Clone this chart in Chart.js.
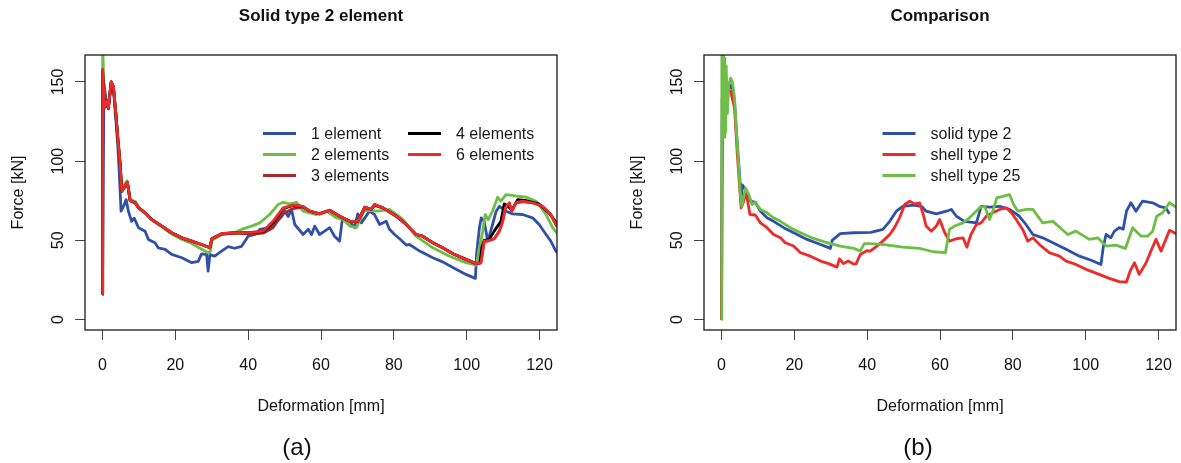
<!DOCTYPE html>
<html>
<head>
<meta charset="utf-8">
<script src="https://cdn.jsdelivr.net/npm/chart.js@4.4.1/dist/chart.umd.min.js"></script>
<style>
  html, body { margin: 0; padding: 0; background: #fff; }
  #wrap { position: relative; width: 1181px; height: 463px; overflow: hidden; }
  canvas { position: absolute; top: 0; }
  .tag { position: absolute; top: 432px; width: 60px; margin-left: -30px; text-align: center;
         font: 24px "Liberation Sans", Arial, sans-serif; color: #111; line-height: 30px; }
</style>
</head>
<body>
<div id="wrap">
  <canvas id="chartA" width="600" height="463" style="left:0"></canvas>
  <canvas id="chartB" width="562" height="463" style="left:619px"></canvas>
  <div class="tag" style="left:297px">(a)</div>
  <div class="tag" style="left:918px">(b)</div>
</div>
<script>
// axis ticks
const xTicks = [0, 20, 40, 60, 80, 100, 120];
const yTicks = [0, 50, 100, 150];

// panel (a): solid type 2 element, [deformation mm, force kN]
const oneElement = [[0,16],[0.4,149],[1.2,135],[1.6,134],[2.4,150],[3.0,146],[3.5,131],[4.2,110],[4.6,93.6],[5.1,68.4],[5.7,71],[6.5,75.7],[7.1,68.4],[8.0,62],[8.7,64],[9.9,58],[11.7,55.8],[12.6,50.6],[14.4,48.5],[15.3,45.3],[17.2,44.3],[19.0,41.1],[21.8,39],[24.5,35.9],[26.3,36.7],[27.2,41.5],[28.6,41],[29.0,30.6],[29.5,41],[30.8,40],[32.7,43.2],[34.5,46],[36.3,45],[38.2,46.2],[40.0,52.6],[41.8,53.7],[43.2,56.9],[45.9,58],[47.8,62],[49.2,65],[50.1,68.4],[51.0,65],[51.9,69.6],[52.8,60],[55.1,53.7],[56.5,57],[57.4,53.7],[58.3,59],[59.6,53.7],[61.0,55.8],[62.4,58],[63.7,52.6],[65.1,49.5],[65.9,64.2],[67.9,62],[69.2,58],[70.1,66.7],[71.1,61],[72.0,64],[73.3,68.4],[74.7,66.3],[76.1,60],[77.9,62],[78.8,57],[80.2,53.7],[81.6,51],[83.4,47],[84.3,47.4],[87.1,43.2],[90.7,39],[93.4,36.4],[97.1,31.7],[99.8,28.5],[102.4,26],[102.7,41.1],[103.5,58],[104.0,64.2],[104.8,62],[105.8,49.5],[107.1,60],[108.1,68.4],[109.0,71.5],[110.8,68.4],[112.6,66.7],[115.3,66.3],[118.1,64.2],[119.9,60],[121.8,53.7],[123.1,49.5],[124.5,43.2],[125,42]];
const twoElements = [[0,16],[0.05,175],[0.5,134],[1.2,137],[1.6,133],[2.4,150],[3.0,147],[3.7,130],[4.2,116],[4.85,100],[5.3,82],[6.2,86],[6.8,87.6],[7.6,76],[9.0,74.5],[9.9,71],[11.7,67.4],[13.5,63],[16.3,58.5],[19.0,54],[21.8,50.5],[24.5,48],[26.3,45.7],[29.0,42.2],[29.6,43],[30.1,50],[32.7,53.5],[36.3,55],[38.2,56.9],[40.9,59],[43.2,61],[45.9,66.3],[48.2,72.6],[49.6,74],[51.5,73],[53.3,74],[55.1,68.4],[58.7,66.3],[61.5,68.4],[64.2,64.2],[66.1,63.2],[67.9,59],[69.7,58],[72.0,69],[75.6,68.4],[78.8,69.6],[82.5,63.2],[86.1,52.6],[90.7,45.3],[95.3,40],[99.8,35.9],[102.7,34.4],[103.3,43.2],[104.4,55.8],[105.1,66.3],[105.9,63],[107.1,68.4],[108.5,77.2],[109.4,74.7],[110.8,78.9],[113.5,78],[116.3,77.3],[119.0,74.7],[121.8,66.3],[123.6,58],[125,54]];
const threeElements = [[0,16],[0.05,155],[0.5,134],[1.2,137],[1.6,133],[2.4,149],[3.0,146],[3.7,129],[4.2,114],[4.85,97],[5.3,81],[6.2,84],[6.85,86],[7.6,75],[9.0,73.5],[9.9,70.5],[11.7,67.4],[13.5,63.2],[16.3,59],[19.0,54.8],[21.8,51.6],[24.5,49.5],[27.2,47.4],[29.5,45.3],[30.0,51],[32.7,54],[36.4,54.5],[41,54],[44.1,54.5],[46.8,58],[49.6,67],[52.3,70],[55.0,71],[56.9,68.4],[59.6,66.7],[62.4,69],[65.1,65.2],[67.9,62],[70.1,62],[72.0,70.5],[73.8,69.6],[74.7,72],[77.0,70.5],[80.7,65.2],[83.4,60],[86.1,53.7],[87.9,52.6],[90.7,48.5],[93.4,45.3],[96.2,41.5],[99.8,38],[102.6,35.3],[103.9,35.8],[104.8,49],[106.2,50],[107.6,51],[109.0,56],[109.9,62],[110.6,70],[111.7,73.5],[112.4,68.4],[113.5,73.5],[115.3,74.5],[118.1,73.7],[120.8,71.5],[123.1,66.3],[124.5,60],[125,58]];
const fourElements = [[0,16],[0.05,157],[0.5,134],[1.2,138],[1.6,133.5],[2.4,150],[3.0,147],[3.7,129],[4.2,114.6],[4.85,98],[5.3,81],[6.2,84],[6.85,86.5],[7.6,75],[9.0,73.7],[9.9,70.5],[11.7,67.4],[13.5,63.2],[16.3,59],[19.0,54.8],[21.8,51.6],[24.5,49.5],[27.2,47.4],[29.5,45.3],[30.0,51],[32.7,54.2],[36.4,54.8],[41,55],[44.1,55.5],[46.8,61],[49.6,70],[52.3,72],[55.0,71.5],[56.9,68.4],[59.6,66.7],[62.4,69],[65.1,65.2],[67.9,62],[70.1,62],[72.0,71],[73.8,69.6],[74.7,72.6],[77.0,70.5],[80.7,65.2],[83.4,60],[86.1,53.7],[87.9,52.6],[90.7,48.5],[93.4,45.3],[96.2,41.5],[99.8,38],[102.6,35.3],[103.6,35.8],[104.2,46],[104.8,50],[106.2,50.5],[107.6,56],[109.4,62],[110.3,73],[111.2,72],[112.4,69],[114.0,75.7],[116.5,75],[119.9,73],[122.7,67],[125,60]];
const sixElements = [[0,16],[0.05,158],[0.5,134],[1.2,138],[1.6,133.5],[2.4,150],[3.0,147],[3.7,129],[4.2,114.6],[4.85,98],[5.3,81],[6.2,84],[6.85,86.5],[7.6,75],[9.0,73.7],[9.9,70.5],[11.7,67.4],[13.5,63.2],[16.3,59],[19.0,54.8],[21.8,51.6],[24.5,49.5],[27.2,47.4],[29.5,45.3],[30.0,51],[32.7,54.2],[36.4,54.8],[41,55],[44.1,55.8],[46.8,62],[49.6,70.5],[52.3,72.2],[55.0,71.5],[56.9,68.4],[59.6,66.7],[62.4,69],[65.1,65.2],[67.9,62],[70.1,62],[72.0,71],[73.8,69.6],[74.7,72.6],[77.0,70.5],[80.7,65.2],[83.4,60],[86.1,53.7],[87.9,52.6],[90.7,48.5],[93.4,45.3],[96.2,41.5],[99.8,38],[102.6,35.3],[103.9,35.8],[104.8,49.5],[106.2,50],[107.6,51],[109.0,55.8],[109.9,62],[110.6,70.5],[111.7,73.7],[112.4,68.4],[113.5,73.7],[115.3,74.7],[118.1,73.7],[120.8,71.5],[123.1,66.3],[124.5,60],[125,58]];

// panel (b): comparison
const solidType2 = [[0,0],[0.2,140],[0.8,138],[1.5,142],[2.5,148],[3.0,146],[3.6,136],[4.3,112],[5.0,90],[5.4,76],[5.7,85],[6.6,82],[8.0,74.7],[9.3,74],[10.7,68.4],[12.5,64.2],[14.3,62],[17.1,58],[19.8,54.8],[23.5,50.6],[27.2,47.4],[29.9,44.9],[30.4,50],[32.6,54.2],[36.3,54.8],[41,55],[44.3,56.9],[46.2,62],[48.0,68.4],[49.8,71.5],[52.6,72.2],[54.9,71.5],[56.2,68.4],[59.0,66.7],[61.8,68.4],[63.1,69.5],[64.5,65.2],[66.7,62],[70.0,61],[71.3,71.5],[73.6,71],[76.4,71.5],[79.1,69.5],[81.8,65.2],[83.6,60],[85.5,53.7],[88.2,51.6],[91.0,48.5],[94.6,44.3],[98.3,40],[101.5,37.4],[104.2,34.8],[104.8,45.3],[105.6,53.7],[106.9,51.6],[107.9,55.8],[109.2,58],[110.3,57],[111.2,68.4],[112.4,73.7],[113.8,68.4],[115.6,74.7],[118.4,73.7],[120.2,71.5],[122.0,70.5],[123.0,66.7]];
const shellType2 = [[0,0],[0.3,150],[1.0,140],[1.8,145],[2.5,144],[3.6,133.5],[4.3,106],[5.0,83],[5.4,70.5],[6.1,74.7],[6.8,80],[7.8,66.3],[9.3,66],[10.7,61],[12.5,58],[14.3,53.7],[16.2,51.6],[17.5,48.5],[19.8,46.4],[21.7,42.2],[24.4,40],[27.2,36.9],[29.4,35.3],[31.7,33.1],[32.4,38.3],[33.5,35.3],[34.8,37],[36.3,35],[37.0,35.3],[38.1,41.1],[40.0,43.6],[40.7,43],[42.5,46],[44.3,49.5],[46.2,53.7],[47.5,58],[48.9,64.2],[50.3,72.6],[51.7,74.7],[53.0,73],[54.4,73.7],[55.4,66.3],[56.2,59],[57.6,55.8],[59.0,59],[59.9,63.2],[61.3,54.8],[62.6,49.5],[64.5,51],[66.3,51.6],[67.4,45.7],[68.5,53.7],[70.0,60],[71.3,61],[72.7,65.2],[74.5,67.4],[76.4,69.5],[78.2,70.5],[79.6,67.4],[80.9,63.2],[82.7,56.9],[84.1,49.5],[85.5,51.6],[87.3,47.4],[90.0,42.2],[92.8,40],[94.6,36.9],[97.3,34.8],[100.1,31.7],[103.7,28.5],[106.5,26],[109.2,23.9],[111.2,23.7],[112.2,30.6],[113.4,35.9],[114.7,28.5],[116.6,35.9],[117.9,43.2],[119.3,50.6],[120.7,43.2],[122.0,50.6],[123.0,56.3],[125,54]];
const shellType25 = [[0,0],[0.1,175],[0.3,120],[0.5,170],[0.7,115],[0.9,165],[1.1,118],[1.3,160],[1.6,130],[2.0,148],[2.5,152.4],[3.0,150],[3.6,139.8],[4.1,118.8],[4.7,98],[5.2,79],[5.6,71.5],[6.6,83],[7.5,79],[8.4,72.6],[9.3,74.1],[10.7,69.5],[12.5,67.4],[14.3,64.2],[16.2,62],[18.9,58],[21.7,54.8],[25.3,51.2],[29.0,48.5],[32.6,46.4],[36.3,44.9],[38.1,43.2],[39.2,47.9],[40.8,47.9],[45.2,47.2],[49.8,45.7],[54.4,44.9],[58.1,42.8],[61.5,42.2],[62.6,56.9],[64.0,59],[66.3,61],[68.1,64.2],[70.9,70.5],[72.3,71.5],[73.6,63.2],[74.5,68.4],[75.6,76.8],[77.2,77.8],[79.1,78.9],[80.2,72.6],[81.4,68.4],[83.7,69.5],[85.5,69.5],[88.2,61],[91.0,62],[95.1,53.7],[97.3,55.8],[101.0,50.6],[103.3,51.6],[105.6,46.4],[108.3,47],[110.9,44.9],[112.9,58],[115.2,52.6],[117.0,52.6],[118.4,55.8],[119.5,65.2],[121.1,67.4],[123.0,73.7],[124.8,71]];

const FONT = '"Liberation Sans", Arial, sans-serif';
const colors = { blue: '#3050a8', green: '#6cbe45', darkred: '#a8292b', black: '#000000', red: '#ee2b2b' };

function series(label, pts, color, order) {
    return {
        label: label,
        data: pts.map(p => ({ x: p[0], y: p[1] })),
        borderColor: color,
        backgroundColor: color,
        borderWidth: 2.8,
        pointRadius: 0,
        tension: 0,
        borderJoinStyle: 'round',
        order: order,
        clip: 0
    };
}

// box round the plot region, like R's bty="o"
const plotBox = {
    id: 'plotBox',
    afterDraw(chart) {
        const a = chart.chartArea, ctx = chart.ctx;
        ctx.save();
        ctx.strokeStyle = '#1a1a1a';
        ctx.lineWidth = 1.3;
        ctx.strokeRect(a.left, a.top, a.right - a.left, a.bottom - a.top);
        ctx.restore();
    }
};

// legend inside the plot, drawn from the datasets themselves
const panelLegend = {
    id: 'panelLegend',
    afterDraw(chart, args, opts) {
        const ctx = chart.ctx;
        ctx.save();
        ctx.font = '16px ' + FONT;
        ctx.textBaseline = 'middle';
        ctx.textAlign = 'left';
        chart.data.datasets.forEach((ds, i) => {
            const s = opts.slots[i];
            ctx.strokeStyle = ds.borderColor;
            ctx.lineWidth = ds.borderWidth;
            ctx.beginPath();
            ctx.moveTo(s[0], s[1]);
            ctx.lineTo(s[0] + 33, s[1]);
            ctx.stroke();
            ctx.fillStyle = '#1a1a1a';
            ctx.fillText(ds.label, s[0] + 48, s[1] + 1);
        });
        ctx.restore();
    }
};

function makeChart(id, title, datasets, padRight, slots) {
    return new Chart(document.getElementById(id), {
        type: 'line',
        data: { datasets: datasets },
        plugins: [plotBox, panelLegend],
        options: {
            responsive: false,
            animation: false,
            events: [],
            layout: { padding: { left: 0, right: padRight, top: 0, bottom: 0 } },
            plugins: {
                legend: { display: false },
                tooltip: { enabled: false },
                title: {
                    display: true,
                    text: title,
                    fullSize: false,
                    color: '#111',
                    font: { family: FONT, size: 17, weight: 'bold', lineHeight: 1.25 },
                    padding: { top: 6, bottom: 27.75 }
                },
                panelLegend: { slots: slots }
            },
            scales: {
                x: {
                    type: 'linear',
                    min: -4.8,
                    max: 124.8,
                    afterFit: s => { s.height = 133; s.paddingLeft = 0; s.paddingRight = 0; },
                    afterBuildTicks: s => { s.ticks = xTicks.map(v => ({ value: v })); },
                    ticks: { color: '#111', padding: 16, font: { family: FONT, size: 16 }, maxRotation: 0 },
                    grid: { drawOnChartArea: false, drawTicks: true, tickLength: 10, color: '#444' },
                    border: { display: false },
                    title: { display: true, text: 'Deformation [mm]', color: '#111',
                             font: { family: FONT, size: 16 }, padding: { top: 0, bottom: 47 } }
                },
                y: {
                    type: 'linear',
                    min: -6.6,
                    max: 167,
                    afterFit: s => { s.width = 85; s.paddingTop = 0; s.paddingBottom = 0; },
                    afterBuildTicks: s => { s.ticks = yTicks.map(v => ({ value: v })); },
                    ticks: { color: '#111', padding: 3, font: { family: FONT, size: 16 },
                             minRotation: 90, maxRotation: 90, crossAlign: 'center' },
                    grid: { drawOnChartArea: false, drawTicks: true, tickLength: 10, color: '#444' },
                    border: { display: false },
                    title: { display: true, text: 'Force [kN]', color: '#111',
                             font: { family: FONT, size: 16 }, padding: { top: 9, bottom: 0 } }
                }
            }
        }
    });
}

makeChart('chartA', 'Solid type 2 element', [
    series('1 element', oneElement, colors.blue, 5),
    series('2 elements', twoElements, colors.green, 4),
    series('3 elements', threeElements, colors.darkred, 3),
    series('4 elements', fourElements, colors.black, 2),
    series('6 elements', sixElements, colors.red, 1)
], 43, [[263, 133.5], [263, 154.5], [263, 175.5], [408, 133.5], [408, 154.5]]);

makeChart('chartB', 'Comparison', [
    series('solid type 2', solidType2, colors.blue, 3),
    series('shell type 2', shellType2, colors.red, 2),
    series('shell type 25', shellType25, colors.green, 1)
], 5, [[263.5, 133.5], [263.5, 154.5], [263.5, 175.5]]);
</script>
</body>
</html>
